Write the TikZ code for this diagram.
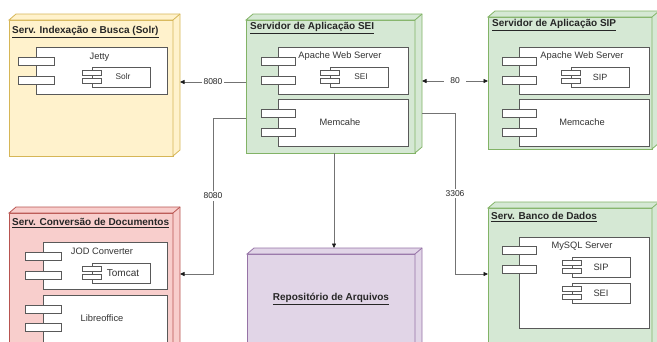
\documentclass[tikz,border=0pt]{standalone}
\usepackage{fontspec}
\setmainfont{Liberation Sans}
\usetikzlibrary{arrows.meta, positioning, calc, fit}
\definecolor{SolrFill}{HTML}{FFF2CC}
\definecolor{SolrLine}{HTML}{D6B656}
\definecolor{AppFill}{HTML}{D5E8D4}
\definecolor{AppLine}{HTML}{82B366}
\definecolor{ConvFill}{HTML}{F8CECC}
\definecolor{ConvLine}{HTML}{B85450}
\definecolor{RepoFill}{HTML}{E1D5E7}
\definecolor{RepoLine}{HTML}{9673A6}

\tikzset{
  server/.style={draw, line width=0.8pt, inner sep=0pt, outer sep=0pt},
  title/.style={anchor=west, inner sep=0pt, text=black!85, font=\fontsize{10}{12}\selectfont\bfseries},
  modbody/.style={draw=black!65, fill=white, line width=0.7pt, inner sep=0pt, outer sep=0pt,
                  text=black!80, font=\fontsize{9.3}{11}\selectfont},
  smallmod/.style={modbody, font=\fontsize{8.3}{10}\selectfont},
  modlbl/.style={inner sep=0pt, text=black!80, font=\fontsize{9.3}{11}\selectfont},
  tip/.tip={Triangle[length=4.5pt, width=4pt, color=black!90]},
  conn/.style={draw=black!55, line width=0.7pt, -tip},
  portlbl/.style={fill=white, inner sep=1.5pt, text=black!85, font=\fontsize{8.5}{10}\selectfont}
}

% side and top faces of a server box
\newcommand{\nodedepth}[3]{%
  \draw[fill=#2, draw=#3, line width=0.8pt] (#1.north west) -- ++(7,-6)
    -- ($(#1.north east)+(7,-6)$) -- ($(#1.south east)+(7,-6)$)
    -- (#1.south east) -- (#1.north east) -- cycle;
  \draw[draw=#3, line width=0.8pt] (#1.north east) -- ++(7,-6);
}
% the two little blocks on the left edge of a module
\newcommand{\modstubs}[5]{%
  \foreach \off in {#4,#5}
    \draw[draw=black!65, fill=white, line width=0.7pt]
      ($(#1.north west)+(-#2,\off)$) rectangle ++(2*#2,#3);
}

\begin{document}
\begin{tikzpicture}[x=1pt, y=-1pt]
    \useasboundingbox (0,0) rectangle (657,341);
    \clip (0,0) rectangle (657,341);

    % Servers
    \node[server, fill=SolrFill, draw=SolrLine, fit={(9,20) (173,156)}] (solr) {};
    \nodedepth{solr}{SolrFill}{SolrLine}
    \node[server, fill=AppFill, draw=AppLine, fit={(246,20) (415,153)}] (appsei) {};
    \nodedepth{appsei}{AppFill}{AppLine}
    \node[server, fill=AppFill, draw=AppLine, fit={(488,17) (652,149)}] (appsip) {};
    \nodedepth{appsip}{AppFill}{AppLine}
    \node[server, fill=ConvFill, draw=ConvLine, fit={(9,213) (173,360)}] (conv) {};
    \nodedepth{conv}{ConvFill}{ConvLine}
    \node[server, fill=RepoFill, draw=RepoLine, fit={(247,254) (415,360)}] (repo) {};
    \nodedepth{repo}{RepoFill}{RepoLine}
    \node[server, fill=AppFill, draw=AppLine, fit={(488,208) (652,360)}] (bd) {};
    \nodedepth{bd}{AppFill}{AppLine}

    % Titles
    \node[title] (solrtitle) at (12,32) {\underline{Serv. Indexação e Busca (Solr)}};
    \node[title] (seititle) at (250,28) {\underline{Servidor de Aplicação SEI}};
    \node[title] (siptitle) at (492,25) {\underline{Servidor de Aplicação SIP}};
    \node[title] (convtitle) at (12,223) {\underline{Serv. Conversão de Documentos}};
    \node[title, anchor=center] (repotitle) at (331,299) {\underline{Repositório de Arquivos}};
    \node[title] (bdtitle) at (491,217) {\underline{Serv. Banco de Dados}};

    % Solr server
    \node[modbody, fit={(36,47) (167,94)}] (jetty) {};
    \modstubs{jetty}{18}{8}{10}{29}
    \node[modlbl, below=6pt of jetty.north, xshift=-2pt] (jettylbl) {Jetty};
    \node[smallmod, fit={(92,67) (150,87)}] (solrmod) {};
    \modstubs{solrmod}{9.5}{5}{3}{11}
    \node[smallmod, draw=none, fill=none] at ($(solrmod.center)+(2,0)$) (solrlbl) {Solr};

    % SEI server
    \node[modbody, fit={(278,47) (408,94)}] (apachesei) {};
    \modstubs{apachesei}{17}{8}{10}{29}
    \node[modlbl, below=5pt of apachesei.north, xshift=-3pt] (apacheseilbl) {Apache Web Server};
    \node[smallmod, fit={(330,67) (388,87)}] (seimod) {};
    \modstubs{seimod}{9.5}{5}{3}{11}
    \node[smallmod, draw=none, fill=none] at ($(seimod.center)+(2,0)$) (seilbl) {SEI};
    \node[modbody, fit={(278,99) (408,146)}] (memsei) {};
    \modstubs{memsei}{17}{8}{10}{29}
    \node[modlbl] at ($(memsei.center)+(-3,0)$) (memseilbl) {Memcahe};

    % SIP server
    \node[modbody, fit={(519,47) (649,94)}] (apachesip) {};
    \modstubs{apachesip}{17}{8}{10}{29}
    \node[modlbl, below=5pt of apachesip.north, xshift=-2pt] (apachesiplbl) {Apache Web Server};
    \node[smallmod, fit={(571,67) (629,87)}] (sipmod) {};
    \modstubs{sipmod}{9.5}{5}{3}{11}
    \node[smallmod, draw=none, fill=none, font=\fontsize{9}{11}\selectfont] at (sipmod.center) (siplbl) {SIP};
    \node[modbody, fit={(519,99) (649,146)}] (memsip) {};
    \modstubs{memsip}{17}{8}{10}{29}
    \node[modlbl] at ($(memsip.center)+(-2,0)$) (memsiplbl) {Memcache};

    % Conversion server
    \node[modbody, fit={(43,242) (167,289)}] (jod) {};
    \modstubs{jod}{18}{8}{10}{29}
    \node[modlbl, below=6pt of jod.north, xshift=-3pt] (jodlbl) {JOD Converter};
    \node[smallmod, fit={(92,263) (150,283)}] (tomcat) {};
    \modstubs{tomcat}{9.5}{5}{3}{11}
    \node[modlbl, font=\fontsize{10}{12}\selectfont] at ($(tomcat.center)+(2,0)$) (tomcatlbl) {Tomcat};
    \node[modbody, fit={(43,295) (167,370)}] (libre) {};
    \modstubs{libre}{18}{8}{10}{28}
    \node[modlbl] at (102,318) (librelbl) {Libreoffice};

    % Database server
    \node[modbody, fit={(519,237) (649,328)}] (mysql) {};
    \modstubs{mysql}{17}{8}{9}{28}
    \node[modlbl, below=5pt of mysql.north, xshift=-2pt] (mysqllbl) {MySQL Server};
    \node[smallmod, fit={(572,257) (630,277)}] (dbsip) {};
    \modstubs{dbsip}{9.5}{5}{3}{11}
    \node[modlbl] at (dbsip.center) (dbsiplbl) {SIP};
    \node[smallmod, fit={(572,283) (630,303)}] (dbsei) {};
    \modstubs{dbsei}{9.5}{5}{3}{11}
    \node[modlbl] at (dbsei.center) (dbseilbl) {SEI};

    % Paths
    \draw[conn] ($(appsei.north west)+(0,62)$) -- node[portlbl] {8080} ($(solr.north east)+(7,62)$);
    \draw[conn, tip-tip] ($(appsei.north east)+(7,61)$)
        -- node[portlbl, inner xsep=6pt] {80} ($(appsip.north west)+(0,64)$);
    \draw[conn] ($(appsei.north west)+(0,98)$) -- ++(-33,0)
        -- node[portlbl] {8080} ++(0,156) -- ($(conv.north east)+(7,61)$);
    \draw[conn] ($(appsei.south)+(3.5,0)$) -- ($(repo.north)+(3,-6)$);
    \draw[conn] ($(appsei.north east)+(7,93)$) -- ++(33,0)
        -- node[portlbl] {3306} ++(0,161) -- ($(bd.north west)+(0,66)$);
\end{tikzpicture}
\end{document}
